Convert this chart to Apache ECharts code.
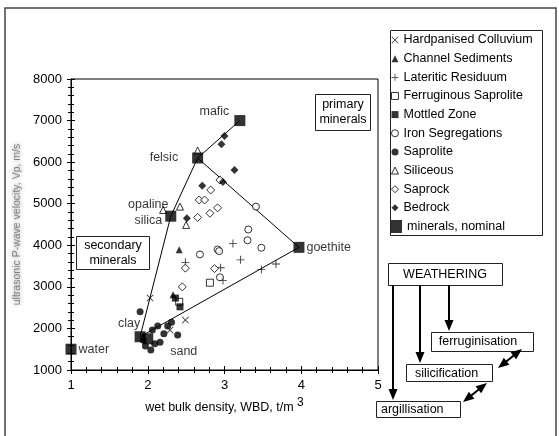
<!DOCTYPE html>
<html>
<head>
<meta charset="utf-8">
<script src="https://cdn.jsdelivr.net/npm/echarts@6/dist/echarts.min.js"></script>
<style>
  html, body { margin: 0; padding: 0; background: #fff; }
  #chart { width: 559px; height: 436px; }
</style>
</head>
<body>
<div id="chart"></div>
<script>
// Regolith samples: [wet bulk density (t/m3), ultrasonic P-wave velocity (m/s)]
const hardpanisedColluvium = [[2.03, 2730], [2.49, 2200], [2.29, 1960]];
const channelSediments = [[2.41, 3890], [2.33, 2810]];
const lateriticResiduum = [[3.11, 4040], [3.21, 3650], [3.67, 3550], [3.48, 3420], [2.49, 3590], [2.95, 3460], [2.98, 3150]];
const ferruginousSaprolite = [[2.81, 3100], [2.41, 2640]];
const mottledZone = [[2.36, 2730], [2.42, 2520]];
const ironSegregations = [[3.41, 4930], [3.31, 4380], [3.30, 4120], [3.48, 3940], [2.68, 3780], [2.91, 3900], [2.93, 3860], [2.94, 3230]];
const saprolite = [[1.90, 2400], [1.94, 1720], [1.97, 1580], [2.04, 1480], [2.09, 1630], [2.16, 1670], [2.21, 1870], [2.26, 2060], [2.31, 2150], [2.06, 1960], [2.13, 2060], [2.39, 1840]];
const siliceous = [[2.65, 6280], [2.42, 4930], [2.50, 4490], [2.20, 4850]];
const saprock = [[2.94, 5570], [2.82, 5330], [2.67, 5090], [2.74, 5090], [2.91, 4900], [2.81, 4770], [2.65, 4670], [2.49, 3450], [2.87, 3440], [2.45, 3000]];
const bedrock = [[3.00, 6630], [2.96, 6430], [3.13, 5810], [2.98, 5520], [2.71, 5430], [2.51, 4650]];

// Nominal mineral end-members
const mineralNames = ['water', 'clay', 'sand', 'opaline silica', 'felsic', 'mafic', 'goethite'];
const mineralWBD = [1.00, 1.90, 2.00, 2.30, 2.65, 3.20, 3.97];
const mineralVp = [1500, 1800, 1750, 4700, 6100, 7000, 3950];
// Envelope joining the end-members
const envelopeOrder = ['mafic', 'felsic', 'opaline silica', 'clay', 'goethite', 'felsic'];

// Axis ranges and ticks
const xTicks = [1, 2, 3, 4, 5];
const yTicks = [1000, 2000, 3000, 4000, 5000, 6000, 7000, 8000];

const FONT = '"Liberation Sans", Arial, Helvetica, sans-serif';
const CROSS = 'path://M0,0.8L0.8,0L5,4.2L9.2,0L10,0.8L5.8,5L10,9.2L9.2,10L5,5.8L0.8,10L0,9.2L4.2,5Z';
const PLUS = 'path://M4.45,0H5.55V4.45H10V5.55H5.55V10H4.45V5.55H0V4.45H4.45Z';

const solid = { color: '#000' };
const hollow = { color: '#fff', borderColor: '#000', borderWidth: 1 };

const groups = [
  { name: 'Hardpanised Colluvium', data: hardpanisedColluvium, symbol: CROSS, size: 7, style: solid },
  { name: 'Channel Sediments', data: channelSediments, symbol: 'triangle', size: 7, style: solid },
  { name: 'Lateritic Residuum', data: lateriticResiduum, symbol: PLUS, size: 8, style: solid },
  { name: 'Ferruginous Saprolite', data: ferruginousSaprolite, symbol: 'rect', size: 7, style: hollow },
  { name: 'Mottled Zone', data: mottledZone, symbol: 'rect', size: 7, style: solid },
  { name: 'Iron Segregations', data: ironSegregations, symbol: 'circle', size: 7, style: hollow },
  { name: 'Saprolite', data: saprolite, symbol: 'circle', size: 7, style: solid },
  { name: 'Siliceous', data: siliceous, symbol: 'triangle', size: 7, style: hollow },
  { name: 'Saprock', data: saprock, symbol: 'diamond', size: 8, style: hollow },
  { name: 'Bedrock', data: bedrock, symbol: 'diamond', size: 8, style: solid }
];

const mineralLabels = {
  'water': { position: 'right', distance: 2 },
  'clay': { position: 'top', distance: 1, offset: [-11, 0] },
  'sand': { position: 'bottom', distance: 1, offset: [36, 0] },
  'opaline silica': { position: 'left', distance: 5, align: 'center', offset: [-12, -4], lineHeight: 16 },
  'felsic': { position: 'left', distance: 14 },
  'mafic': { position: 'left', distance: 5, offset: [0, -9] },
  'goethite': { position: 'right', distance: 2 }
};

const mineralData = mineralNames.map((n, i) => ({
  name: n,
  value: [mineralWBD[i], mineralVp[i]],
  label: mineralLabels[n]
}));
const envelope = envelopeOrder.map(n => {
  const i = mineralNames.indexOf(n);
  return [mineralWBD[i], mineralVp[i]];
});

const series = [
  {
    type: 'line', name: 'envelope', data: envelope, symbol: 'none', z: 2,
    lineStyle: { color: '#000', width: 1 }, silent: true
  }
].concat(groups.map(g => ({
  type: 'scatter', name: g.name, data: g.data, symbol: g.symbol, symbolSize: g.size,
  itemStyle: g.style, z: 3, silent: true
}))).concat([{
  type: 'scatter', name: 'minerals, nominal', data: mineralData, symbol: 'rect', symbolSize: 11,
  itemStyle: solid, z: 4, silent: true,
  label: { show: true, formatter: p => p.name.replace(' ', '\n'), fontSize: 12.5, fontFamily: FONT, color: '#000' }
}]);

// Axis helpers: one axis draws outward ticks and labels, a twin draws inward ticks
function valueAxis(ticks, inside, extra) {
  return Object.assign({
    type: 'value',
    min: ticks[0], max: ticks[ticks.length - 1], interval: ticks[1] - ticks[0],
    axisLine: { show: !inside, lineStyle: { color: '#000', width: 1 } },
    axisTick: { show: true, inside: inside, length: 4, lineStyle: { color: '#000', width: 1 } },
    minorTick: { show: true, splitNumber: 5, length: 3, lineStyle: { color: '#000', width: 1 } },
    splitLine: { show: false },
    axisLabel: { show: !inside, fontSize: 13, fontFamily: FONT, color: '#000', margin: 9, formatter: v => String(v) }
  }, extra || {});
}

// Arrows for the weathering scheme
function arrowHead(tx, ty, fx, fy) {
  const len = 11, half = 4.5;
  const dx = tx - fx, dy = ty - fy, d = Math.hypot(dx, dy);
  const ux = dx / d, uy = dy / d;
  const bx = tx - ux * len, by = ty - uy * len;
  return {
    type: 'polygon', silent: true,
    shape: { points: [[tx, ty], [bx - uy * half, by + ux * half], [bx + uy * half, by - ux * half]] },
    style: { fill: '#000' }
  };
}
function arrow(x1, y1, x2, y2, both) {
  const d = Math.hypot(x2 - x1, y2 - y1), ux = (x2 - x1) / d, uy = (y2 - y1) / d;
  const sx = both ? x1 + ux * 9 : x1, sy = both ? y1 + uy * 9 : y1;
  const els = [{
    type: 'line', silent: true,
    shape: { x1: sx, y1: sy, x2: x2 - ux * 9, y2: y2 - uy * 9 },
    style: { stroke: '#000', lineWidth: 2 }
  }, arrowHead(x2, y2, x1, y1)];
  if (both) els.push(arrowHead(x1, y1, x2, y2));
  return els;
}
function box(x, y, w, h) {
  return { type: 'rect', silent: true, shape: { x: x, y: y, width: w, height: h },
    style: { fill: '#fff', stroke: '#222', lineWidth: 1 } };
}
function text(str, x, y, align) {
  return { type: 'text', silent: true, x: x, y: y,
    style: { text: str, fill: '#000', font: '12.5px ' + FONT, align: align || 'center', verticalAlign: 'middle', lineHeight: 15 } };
}

const graphics = [
  { type: 'rect', silent: true, shape: { x: 5, y: 8, width: 551, height: 440 },
    style: { fill: 'none', stroke: '#444', lineWidth: 1.5 } },
  { type: 'rect', silent: true, shape: { x: 390.5, y: 30.5, width: 152, height: 205 },
    style: { fill: 'none', stroke: '#222', lineWidth: 1 } },
  box(76.5, 236.5, 73, 33), text('secondary\nminerals', 113, 253),
  box(315.5, 94.5, 55, 36), text('primary\nminerals', 343, 112.5),
  box(388.5, 263.5, 114, 22), text('WEATHERING', 445, 275),
  box(431.5, 332.5, 102, 19), text('ferruginisation', 478, 342),
  box(406.5, 364.5, 86, 17), text('silicification', 415, 374, 'left'),
  box(376.5, 401.5, 84, 16), text('argillisation', 381, 410, 'left')
].concat(
  arrow(393, 285, 393, 400),
  arrow(420, 285, 420, 363),
  arrow(449, 285, 449, 331),
  arrow(498, 368, 522, 349, true),
  arrow(463, 402, 487, 383, true)
);

const legendText = { fontSize: 12.5, fontFamily: FONT, color: '#000', lineHeight: 14 };

const option = {
  animation: false,
  backgroundColor: '#fff',
  grid: { left: 71, right: 181, top: 79, bottom: 66, show: true, borderColor: '#000', borderWidth: 1, backgroundColor: 'transparent' },
  xAxis: [
    valueAxis(xTicks, false, {
      position: 'bottom',
      name: 'wet bulk density, WBD, t/m {sup|3}',
      nameLocation: 'middle', nameGap: 31,
      nameTextStyle: {
        fontSize: 12.5, fontFamily: FONT, color: '#000', lineHeight: 14,
        rich: { sup: { fontSize: 12, fontFamily: FONT, color: '#000', lineHeight: 12, padding: [0, 0, 10, 0] } }
      }
    }),
    valueAxis(xTicks, true, { position: 'bottom' })
  ],
  yAxis: [
    valueAxis(yTicks, false, {
      position: 'left',
      name: 'ultrasonic P-wave velocity, Vp, m/s',
      nameLocation: 'middle', nameGap: 43,
      nameTextStyle: { fontSize: 10.5, fontFamily: FONT, color: 'rgba(105,105,105,0.8)', textShadowColor: 'rgba(100,100,100,0.9)', textShadowBlur: 4 }
    }),
    valueAxis(yTicks, true, { position: 'left' })
  ],
  legend: [
    {
      data: groups.map(g => ({ name: g.name, icon: g.symbol, itemStyle: g.style })),
      orient: 'vertical', left: 391, top: 33, padding: 0,
      itemWidth: 7, itemHeight: 7, itemGap: 4.65, selectedMode: false,
      textStyle: legendText
    },
    {
      data: [{ name: 'minerals, nominal', icon: 'rect', itemStyle: solid }],
      orient: 'vertical', left: 391, top: 219.5, padding: 0,
      itemWidth: 11, itemHeight: 13, selectedMode: false,
      textStyle: legendText
    }
  ],
  graphic: graphics,
  series: series
};

const chart = echarts.init(document.getElementById('chart'));
chart.setOption(option);
</script>
</body>
</html>
